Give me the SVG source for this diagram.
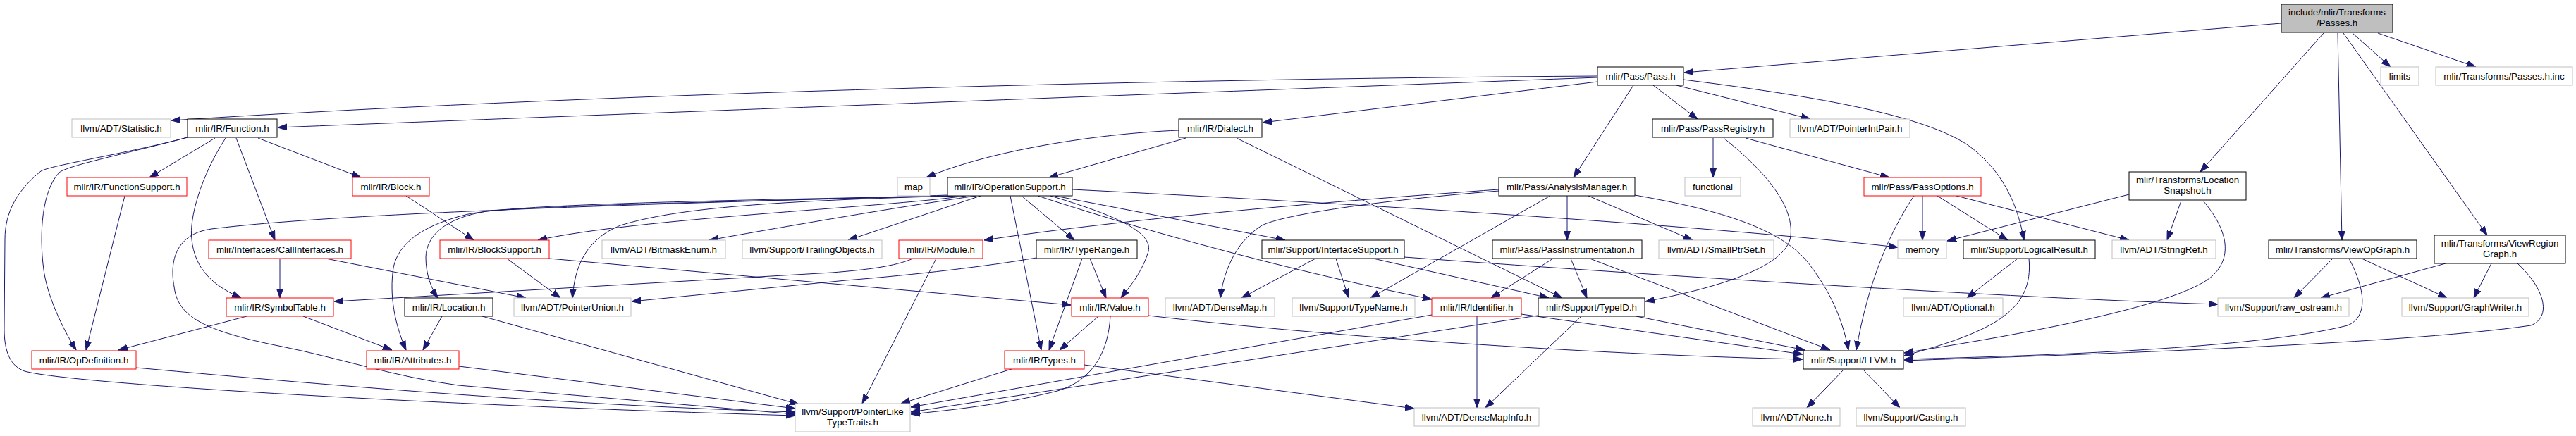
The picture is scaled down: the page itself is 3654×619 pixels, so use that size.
<svg xmlns="http://www.w3.org/2000/svg" width="3654" height="619" viewBox="0 0 3654 619">
<defs>
<style>
.n rect{fill:#fff;stroke-width:1}
.k rect{stroke:#000}
.r rect{stroke:#f00}
.g rect{stroke:#bfbfbf}
.n text{font-family:"Liberation Sans",Arial,sans-serif;font-size:13.33px;text-anchor:middle;fill:#000}
#edges path{fill:none;stroke:#191970;stroke-width:1;marker-end:url(#a)}
</style>
<marker id="a" markerUnits="userSpaceOnUse" markerWidth="13" markerHeight="10" refX="13" refY="5" orient="auto" viewBox="0 0 13 10"><path d="M0,0.5 L13,5 L0,9.5 z" fill="#191970" stroke="#191970"/></marker>
</defs>
<rect width="3654" height="619" fill="#fff"/>
<g id="edges">
<path d="M3236,33 L2389,103"/>
<path d="M3337,47 L3391,95"/>
<path d="M3373,47 L3512,95"/>
<path d="M3296,47 L3121,244"/>
<path d="M3316,47 L3322,341"/>
<path d="M3324,47 L3528,334"/>
<path d="M2266,108 C1600,112 800,135 243,171"/>
<path d="M2266,110 C1600,135 800,165 394,181"/>
<path d="M2266,116 L1791,174"/>
<path d="M2345,121 L2408,169"/>
<path d="M2378,121 L2568,169"/>
<path d="M2388,113 C2560,135 2720,160 2790,205 C2840,240 2862,290 2871,341"/>
<path d="M2317,121 L2232,252"/>
<path d="M305,196 L212,252"/>
<path d="M366,196 L512,252"/>
<path d="M335,196 L390,341"/>
<path d="M320,196 C285,250 268,310 272,340 C276,380 300,405 342,423"/>
<path d="M266,195 C180,218 95,235 84,245 C60,270 55,330 62,383 C67,420 88,465 108,497"/>
<path d="M266,195 C180,218 70,235 58,243 C25,270 7,300 7,340 L6,467 C6,500 15,520 35,527 C100,545 600,575 1128,590"/>
<path d="M1672,185 C1550,190 1400,215 1314,252"/>
<path d="M1682,196 L1488,252"/>
<path d="M1754,196 L2216,423"/>
<path d="M2430,196 L2430,252"/>
<path d="M2476,196 L2680,252"/>
<path d="M2445,196 C2500,240 2545,290 2540,335 C2535,380 2430,410 2334,428"/>
<path d="M1521,269 C1900,288 2400,318 2692,351"/>
<path d="M1496,278 L1823,341"/>
<path d="M1490,278 C1580,305 1640,330 1628,360 C1618,390 1600,410 1590,423"/>
<path d="M1472,278 C1600,320 1800,378 2031,425"/>
<path d="M1449,278 L1524,341"/>
<path d="M1433,278 L1477,497"/>
<path d="M1391,278 L1203,341"/>
<path d="M1385,278 C1300,290 1150,315 1006,341"/>
<path d="M1370,278 C1250,295 900,310 763,341"/>
<path d="M1360,278 C1100,285 960,295 880,320 C830,340 815,380 812,423"/>
<path d="M1352,278 C1100,285 800,290 690,300 C630,310 605,335 604,365 C604,390 612,410 621,423"/>
<path d="M1348,278 C1000,285 720,290 660,305 C600,320 565,345 558,380 C552,420 560,460 576,497"/>
<path d="M1345,277 C1000,288 500,300 300,325 C250,332 240,370 247,407 C252,450 290,470 400,492 C480,508 560,535 650,547 L1128,588"/>
<path d="M2126,269 C1900,285 1600,310 1396,341"/>
<path d="M2126,271 C1950,285 1820,305 1790,320 C1750,345 1735,390 1731,423"/>
<path d="M2199,278 L1944,423"/>
<path d="M2223,278 L2223,341"/>
<path d="M2253,278 L2401,341"/>
<path d="M2319,277 C2420,295 2530,320 2570,380 C2600,420 2615,460 2622,497"/>
<path d="M2715,278 C2680,330 2650,400 2633,497"/>
<path d="M2727,278 L2727,341"/>
<path d="M2748,278 L2848,341"/>
<path d="M2775,278 L3020,341"/>
<path d="M3020,276 L2762,342"/>
<path d="M3094,285 L3074,341"/>
<path d="M3125,285 C3155,320 3170,360 3140,390 C3100,430 2900,470 2701,501"/>
<path d="M2862,367 L2790,423"/>
<path d="M2878,367 C2885,440 2830,470 2701,505"/>
<path d="M3309,367 L3254,423"/>
<path d="M3350,367 L3471,423"/>
<path d="M3332,367 C3355,410 3360,450 3330,462 C3200,495 2900,505 2701,510"/>
<path d="M3469,374 L3292,423"/>
<path d="M3534,374 L3509,423"/>
<path d="M3571,374 C3610,410 3620,450 3590,462 C3400,490 2900,505 2701,512"/>
<path d="M1992,365 C2400,395 2900,425 3146,432"/>
<path d="M1866,367 L1761,423"/>
<path d="M1895,367 L1913,423"/>
<path d="M1948,367 L2197,423"/>
<path d="M2203,367 L2115,423"/>
<path d="M2228,367 L2251,423"/>
<path d="M2255,367 L2596,497"/>
<path d="M2095,449 L2095,579"/>
<path d="M2158,446 L2557,503"/>
<path d="M2031,447 L1292,578"/>
<path d="M2243,449 L2107,579"/>
<path d="M2321,449 L2560,497"/>
<path d="M2181,448 L1292,585"/>
<path d="M1558,449 L1503,497"/>
<path d="M1575,449 C1572,500 1550,540 1500,555 C1420,575 1350,582 1292,588"/>
<path d="M1629,448 C1900,480 2300,505 2557,510"/>
<path d="M1535,367 L1488,497"/>
<path d="M1546,367 L1569,423"/>
<path d="M1470,366 C1400,378 1300,390 1200,398 L896,428"/>
<path d="M1328,367 L1223,573"/>
<path d="M1295,367 C1270,378 1230,383 1180,387 L474,428"/>
<path d="M1438,523 L1278,573"/>
<path d="M1538,518 L2006,580"/>
<path d="M719,367 L795,423"/>
<path d="M779,367 L1519,433"/>
<path d="M627,449 L600,497"/>
<path d="M684,449 L1133,574"/>
<path d="M651,520 L1128,580"/>
<path d="M193,522 C500,550 800,575 1128,585"/>
<path d="M177,278 L122,497"/>
<path d="M576,278 L672,341"/>
<path d="M397,367 L397,423"/>
<path d="M462,367 L746,423"/>
<path d="M350,449 L168,497"/>
<path d="M430,449 L556,497"/>
<path d="M2616,524 L2563,579"/>
<path d="M2642,524 L2695,579"/>
</g>
<g id="root" class="n k"><rect x="3236" y="6" width="158" height="40" style="fill:#bfbfbf"/><text x="3315" y="22">include/mlir/Transforms</text><text x="3315" y="37">/Passes.h</text></g>
<g id="pass" class="n k"><rect x="2266" y="95" width="122" height="26"/><text x="2327" y="113">mlir/Pass/Pass.h</text></g>
<g id="limits" class="n g"><rect x="3377" y="95" width="54" height="26"/><text x="3404" y="113">limits</text></g>
<g id="passesinc" class="n g"><rect x="3455" y="95" width="194" height="26"/><text x="3552" y="113">mlir/Transforms/Passes.h.inc</text></g>
<g id="statistic" class="n g"><rect x="102" y="169" width="140" height="26"/><text x="172" y="187">llvm/ADT/Statistic.h</text></g>
<g id="function" class="n k"><rect x="266" y="169" width="127" height="26"/><text x="329.5" y="187">mlir/IR/Function.h</text></g>
<g id="dialect" class="n k"><rect x="1672" y="169" width="118" height="26"/><text x="1731" y="187">mlir/IR/Dialect.h</text></g>
<g id="passregistry" class="n k"><rect x="2344" y="169" width="171" height="26"/><text x="2429.5" y="187">mlir/Pass/PassRegistry.h</text></g>
<g id="pointerintpair" class="n g"><rect x="2539" y="169" width="170" height="26"/><text x="2624" y="187">llvm/ADT/PointerIntPair.h</text></g>
<g id="functionsupport" class="n r"><rect x="95" y="252" width="170" height="26"/><text x="180" y="270">mlir/IR/FunctionSupport.h</text></g>
<g id="block" class="n r"><rect x="500" y="252" width="109" height="26"/><text x="554.5" y="270">mlir/IR/Block.h</text></g>
<g id="map" class="n g"><rect x="1273" y="252" width="46" height="26"/><text x="1296" y="270">map</text></g>
<g id="opsupport" class="n k"><rect x="1344" y="252" width="177" height="26"/><text x="1432.5" y="270">mlir/IR/OperationSupport.h</text></g>
<g id="analysismanager" class="n k"><rect x="2126" y="252" width="193" height="26"/><text x="2222.5" y="270">mlir/Pass/AnalysisManager.h</text></g>
<g id="functional" class="n g"><rect x="2390" y="252" width="79" height="26"/><text x="2429.5" y="270">functional</text></g>
<g id="passoptions" class="n r"><rect x="2644" y="252" width="166" height="26"/><text x="2727" y="270">mlir/Pass/PassOptions.h</text></g>
<g id="locsnapshot" class="n k"><rect x="3020" y="244" width="166" height="40"/><text x="3103" y="260">mlir/Transforms/Location</text><text x="3103" y="275">Snapshot.h</text></g>
<g id="callinterfaces" class="n r"><rect x="296" y="341" width="202" height="26"/><text x="397" y="359">mlir/Interfaces/CallInterfaces.h</text></g>
<g id="blocksupport" class="n r"><rect x="624" y="341" width="155" height="26"/><text x="701.5" y="359">mlir/IR/BlockSupport.h</text></g>
<g id="bitmaskenum" class="n g"><rect x="854" y="341" width="175" height="26"/><text x="941.5" y="359">llvm/ADT/BitmaskEnum.h</text></g>
<g id="trailingobjects" class="n g"><rect x="1053" y="341" width="198" height="26"/><text x="1152" y="359">llvm/Support/TrailingObjects.h</text></g>
<g id="module" class="n r"><rect x="1275" y="341" width="119" height="26"/><text x="1334.5" y="359">mlir/IR/Module.h</text></g>
<g id="typerange" class="n k"><rect x="1470" y="341" width="143" height="26"/><text x="1541.5" y="359">mlir/IR/TypeRange.h</text></g>
<g id="interfacesupport" class="n k"><rect x="1790" y="341" width="202" height="26"/><text x="1891" y="359">mlir/Support/InterfaceSupport.h</text></g>
<g id="passinstrumentation" class="n k"><rect x="2117" y="341" width="212" height="26"/><text x="2223" y="359">mlir/Pass/PassInstrumentation.h</text></g>
<g id="smallptrset" class="n g"><rect x="2353" y="341" width="163" height="26"/><text x="2434.5" y="359">llvm/ADT/SmallPtrSet.h</text></g>
<g id="memory" class="n g"><rect x="2692" y="341" width="69" height="26"/><text x="2726.5" y="359">memory</text></g>
<g id="logicalresult" class="n k"><rect x="2785" y="341" width="187" height="26"/><text x="2878.5" y="359">mlir/Support/LogicalResult.h</text></g>
<g id="stringref" class="n g"><rect x="2996" y="341" width="147" height="26"/><text x="3069.5" y="359">llvm/ADT/StringRef.h</text></g>
<g id="viewopgraph" class="n k"><rect x="3218" y="341" width="210" height="26"/><text x="3323" y="359">mlir/Transforms/ViewOpGraph.h</text></g>
<g id="viewregiongraph" class="n k"><rect x="3453" y="334" width="186" height="40"/><text x="3546" y="350">mlir/Transforms/ViewRegion</text><text x="3546" y="365">Graph.h</text></g>
<g id="symboltable" class="n r"><rect x="321" y="423" width="152" height="26"/><text x="397" y="441">mlir/IR/SymbolTable.h</text></g>
<g id="location" class="n k"><rect x="574" y="423" width="125" height="26"/><text x="636.5" y="441">mlir/IR/Location.h</text></g>
<g id="pointerunion" class="n g"><rect x="729" y="423" width="166" height="26"/><text x="812" y="441">llvm/ADT/PointerUnion.h</text></g>
<g id="value" class="n r"><rect x="1520" y="423" width="109" height="26"/><text x="1574.5" y="441">mlir/IR/Value.h</text></g>
<g id="densemap" class="n g"><rect x="1653" y="423" width="155" height="26"/><text x="1730.5" y="441">llvm/ADT/DenseMap.h</text></g>
<g id="typename" class="n g"><rect x="1833" y="423" width="174" height="26"/><text x="1920" y="441">llvm/Support/TypeName.h</text></g>
<g id="identifier" class="n r"><rect x="2031" y="423" width="127" height="26"/><text x="2094.5" y="441">mlir/IR/Identifier.h</text></g>
<g id="typeid" class="n k"><rect x="2182" y="423" width="151" height="26"/><text x="2257.5" y="441">mlir/Support/TypeID.h</text></g>
<g id="optional" class="n g"><rect x="2700" y="423" width="141" height="26"/><text x="2770.5" y="441">llvm/ADT/Optional.h</text></g>
<g id="rawostream" class="n g"><rect x="3146" y="423" width="186" height="26"/><text x="3239" y="441">llvm/Support/raw_ostream.h</text></g>
<g id="graphwriter" class="n g"><rect x="3407" y="423" width="180" height="26"/><text x="3497" y="441">llvm/Support/GraphWriter.h</text></g>
<g id="opdefinition" class="n r"><rect x="45" y="498" width="148" height="26"/><text x="119" y="516">mlir/IR/OpDefinition.h</text></g>
<g id="attributes" class="n r"><rect x="520" y="498" width="131" height="26"/><text x="585.5" y="516">mlir/IR/Attributes.h</text></g>
<g id="types" class="n r"><rect x="1425" y="498" width="113" height="26"/><text x="1481.5" y="516">mlir/IR/Types.h</text></g>
<g id="llvm" class="n k"><rect x="2558" y="498" width="142" height="26"/><text x="2629" y="516">mlir/Support/LLVM.h</text></g>
<g id="pointerlike" class="n g"><rect x="1128" y="573" width="163" height="40"/><text x="1209.5" y="589">llvm/Support/PointerLike</text><text x="1209.5" y="604">TypeTraits.h</text></g>
<g id="densemapinfo" class="n g"><rect x="2006" y="579" width="177" height="26"/><text x="2094.5" y="597">llvm/ADT/DenseMapInfo.h</text></g>
<g id="none" class="n g"><rect x="2486" y="579" width="124" height="26"/><text x="2548" y="597">llvm/ADT/None.h</text></g>
<g id="casting" class="n g"><rect x="2633" y="579" width="155" height="26"/><text x="2710.5" y="597">llvm/Support/Casting.h</text></g>
</svg>
